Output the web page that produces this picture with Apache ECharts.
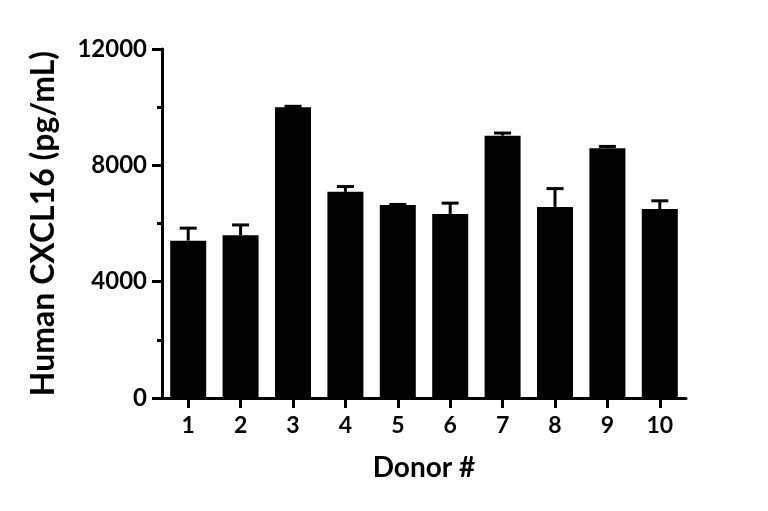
<!DOCTYPE html>
<html>
<head>
<meta charset="utf-8">
<script src="https://cdn.jsdelivr.net/npm/echarts@6/dist/echarts.min.js"></script>
<style>
html,body{margin:0;padding:0;background:#fff;}
#chart{width:768px;height:511px;}
</style>
</head>
<body>
<div id="chart"></div>
<script>
var categories = ['1', '2', '3', '4', '5', '6', '7', '8', '9', '10'];
var means = [5410, 5600, 10000, 7090, 6640, 6330, 9020, 6570, 8590, 6500];
var errors = [430, 350, 30, 180, 15, 370, 90, 630, 60, 280];
var yTicks = [0, 4000, 8000, 12000];

var FONT = 'Lato';
var errData = categories.map(function (c, i) { return [i, means[i], errors[i]]; });

var chart = echarts.init(document.getElementById('chart'), null, {renderer: 'canvas'});
chart.setOption({
  animation: false,
  backgroundColor: '#fff',
  grid: {left: 162, right: 82, top: 49, bottom: 113, containLabel: false},
  xAxis: {
    type: 'category',
    data: categories,
    name: 'Donor #',
    nameLocation: 'middle',
    nameGap: 56,
    nameTextStyle: {fontFamily: FONT, fontWeight: 'bold', fontSize: 28, color: '#000'},
    axisLine: {show: true, lineStyle: {color: '#000', width: 3}},
    axisTick: {show: true, alignWithLabel: true, length: 10, lineStyle: {color: '#000', width: 3}},
    axisLabel: {fontFamily: FONT, fontWeight: 'bold', fontSize: 23, color: '#000', margin: 16},
    splitLine: {show: false}
  },
  yAxis: {
    type: 'value',
    min: yTicks[0],
    max: yTicks[yTicks.length - 1],
    interval: yTicks[1] - yTicks[0],
    name: 'Human CXCL16 (pg/mL)',
    nameLocation: 'middle',
    nameGap: 102,
    nameTextStyle: {fontFamily: FONT, fontWeight: 'bold', fontSize: 32, color: '#000'},
    axisLine: {show: true, lineStyle: {color: '#000', width: 3}},
    axisTick: {show: true, length: 10, lineStyle: {color: '#000', width: 3}},
    minorTick: {show: true, splitNumber: 2, length: 5, lineStyle: {color: '#000', width: 3}},
    axisLabel: {fontFamily: FONT, fontWeight: 'bold', fontSize: 24, color: '#000', margin: 15,
      formatter: function (v) { return String(v); }},
    splitLine: {show: false},
    minorSplitLine: {show: false}
  },
  series: [
    {
      type: 'bar',
      data: means,
      barWidth: 36,
      itemStyle: {color: '#000'},
      z: 2
    },
    {
      type: 'custom',
      data: errData,
      z: 3,
      renderItem: function (params, api) {
        var x = api.value(0);
        var m = api.value(1);
        var e = api.value(2);
        var base = api.coord([x, m]);
        var top = api.coord([x, m + e]);
        var half = 8.5;
        return {
          type: 'group',
          children: [
            {type: 'line', shape: {x1: top[0], y1: base[1], x2: top[0], y2: top[1]},
             style: {stroke: '#000', lineWidth: 3}},
            {type: 'line', shape: {x1: top[0] - half, y1: top[1], x2: top[0] + half, y2: top[1]},
             style: {stroke: '#000', lineWidth: 3}}
          ]
        };
      }
    }
  ]
});
</script>
</body>
</html>
